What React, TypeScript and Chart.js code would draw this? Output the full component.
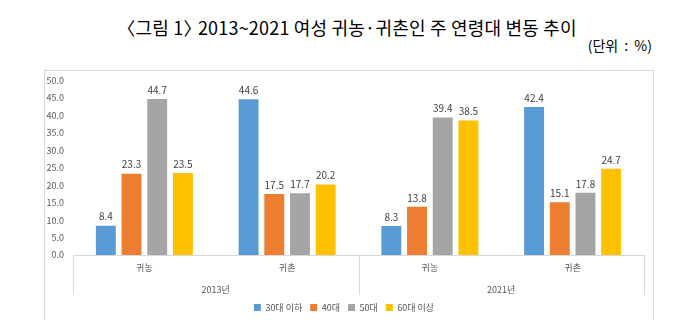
import React, { useEffect, useRef } from 'react';
import { Chart, registerables } from 'chart.js';

Chart.register(...registerables);

const titleOpen = '〈';
const titleNum = '그림 1';
const titleClose = '〉';
const titleRest = ' 2013~2021 여성 귀농·귀촌인 주 연령대 변동 추이';
const unitText = '(단위 : %)';
const categories = ['귀농', '귀촌', '귀농', '귀촌'];
const years = ['2013년', '2021년'];
const seriesNames = ['30대 이하', '40대', '50대', '60대 이상'];
const under30 = [8.4, 44.6, 8.3, 42.4];
const age40 = [23.3, 17.5, 13.8, 15.1];
const age50 = [44.7, 17.7, 39.4, 17.8];
const over60 = [23.5, 20.2, 38.5, 24.7];
const seriesValues = [under30, age40, age50, over60];
const seriesColors = ['#5B9BD5', '#ED7D31', '#A5A5A5', '#FFC000'];
const yMin = 0;
const yMax = 50;
const yStep = 5;

const FONT = "'Noto Sans CJK KR', 'Noto Sans', sans-serif";

const valueLabels = {
  id: 'valueLabels',
  afterDatasetsDraw(chart: any) {
    const ctx = chart.ctx;
    ctx.save();
    ctx.font = `10px ${FONT}`;
    ctx.fillStyle = '#404040';
    ctx.textAlign = 'center';
    ctx.textBaseline = 'bottom';
    chart.data.datasets.forEach((ds: any, di: number) => {
      const meta = chart.getDatasetMeta(di);
      meta.data.forEach((el: any, i: number) => {
        ctx.fillText(Number(ds.data[i]).toFixed(1), el.x, el.y - 4);
      });
    });
    ctx.restore();
  },
};

const groupLines = {
  id: 'groupLines',
  afterDraw(chart: any) {
    const x = chart.scales.x;
    const n = x.ticks.length;
    const step = (x.getPixelForValue(n - 1) - x.getPixelForValue(0)) / (n - 1);
    const ctx = chart.ctx;
    const top = chart.chartArea.bottom;
    ctx.save();
    ctx.strokeStyle = '#d9d9d9';
    ctx.lineWidth = 1;
    for (let i = 0; i <= n; i += 2) {
      const px = Math.round(x.getPixelForValue(0) - step / 2 + i * step) + 0.5;
      ctx.beginPath();
      ctx.moveTo(px, top);
      ctx.lineTo(px, top + 40);
      ctx.stroke();
    }
    ctx.restore();
  },
};

export default function App() {
  const ref = useRef<HTMLCanvasElement>(null);
  useEffect(() => {
    if (!ref.current) return;
    const chart = new Chart(ref.current, {
      type: 'bar',
      data: {
        labels: categories,
        datasets: seriesNames.map((name, i) => ({
          label: name,
          data: seriesValues[i],
          backgroundColor: seriesColors[i],
          borderWidth: 0,
          categoryPercentage: 0.72,
          barPercentage: 0.775,
          xAxisID: 'x',
        })),
      },
      options: {
        animation: false,
        responsive: true,
        maintainAspectRatio: false,
        layout: { padding: { top: 5, right: 9, bottom: 9, left: 0 } },
        plugins: {
          legend: {
            position: 'bottom',
            labels: {
              boxWidth: 7,
              boxHeight: 7,
              padding: 8,
              color: '#595959',
              font: { size: 9, family: FONT },
            },
          },
          tooltip: { enabled: false },
          title: { display: false },
        },
        scales: {
          y: {
            min: yMin,
            max: yMax,
            ticks: {
              stepSize: yStep,
              callback: (v: any) => Number(v).toFixed(1),
              color: '#595959',
              font: { size: 9, family: FONT },
              padding: 9,
            },
            grid: { display: false, drawTicks: false },
            border: { display: false },
            afterFit: (s: any) => { s.width = 29; },
          },
          x: {
            ticks: { color: '#595959', font: { size: 9, family: FONT }, padding: 7 },
            grid: { display: false, drawTicks: false },
            border: { display: true, color: '#d9d9d9' },
            afterFit: (s: any) => { s.height = 17; },
          },
          x2: {
            type: 'category',
            labels: years,
            position: 'bottom',
            offset: true,
            ticks: { color: '#595959', font: { size: 9, family: FONT }, padding: 12 },
            grid: { display: false, drawTicks: false },
            border: { display: false },
            afterFit: (s: any) => { s.height = 23; },
          },
        },
      },
      plugins: [valueLabels, groupLines],
    } as any);
    return () => chart.destroy();
  }, []);

  return (
    <div style={{ position: 'fixed', left: 0, top: 0, width: 699, height: 331, background: '#fff', overflow: 'hidden' }}>
      <div style={{ position: 'absolute', left: 0, top: 15, width: 702, textAlign: 'center', fontFamily: FONT, fontSize: 18, lineHeight: '24px', letterSpacing: 0.2, color: '#000', whiteSpace: 'nowrap' }}>
        <span style={{ marginLeft: -8 }}>{titleOpen}</span>{titleNum}<span style={{ marginRight: -8 }}>{titleClose}</span>{titleRest}
      </div>
      <div style={{ position: 'absolute', right: 47, top: 36, fontFamily: FONT, fontSize: 14, lineHeight: '18px', color: '#000', whiteSpace: 'nowrap', wordSpacing: 3 }}>
        {unitText}
      </div>
      <div style={{ position: 'absolute', left: 44, top: 70, width: 608, height: 249, border: '1px solid #d9d9d9', borderBottom: 'none' }} />
      <div style={{ position: 'absolute', left: 44, top: 66, width: 609, height: 265 }}>
        <canvas ref={ref} />
      </div>
    </div>
  );
}
